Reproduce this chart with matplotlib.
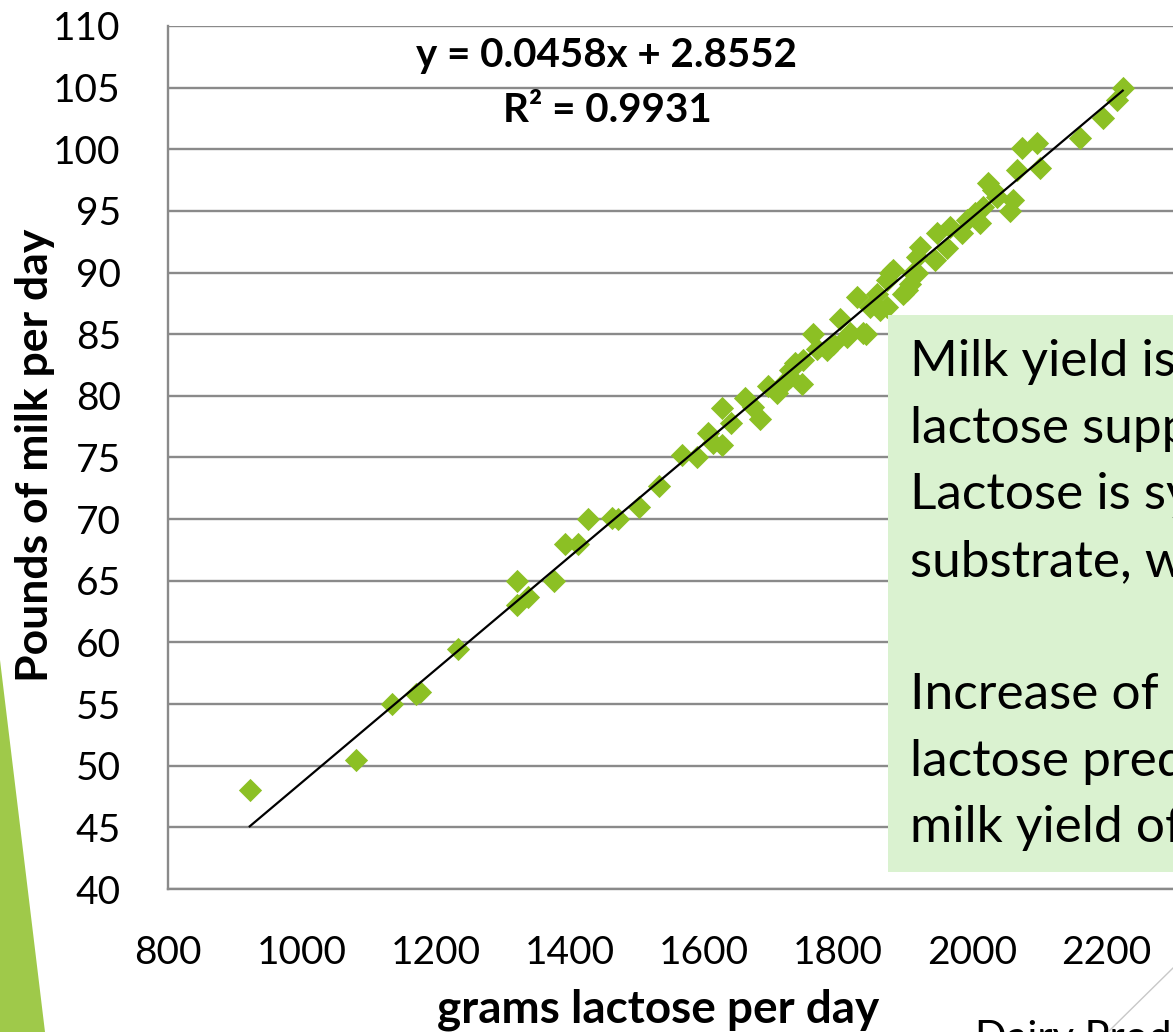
import matplotlib
matplotlib.use("Agg")
import matplotlib.pyplot as plt
from matplotlib.patches import Rectangle, Polygon
import numpy as np

# grams lactose per day vs pounds of milk per day
lactose = [922, 1081, 1134, 1170, 1176, 1233, 1321, 1321, 1337, 1376,
           1393, 1412, 1427, 1463, 1472, 1503, 1533, 1567, 1590, 1606,
           1613, 1627, 1627, 1640, 1661, 1673, 1684, 1696, 1709, 1718,
           1728, 1728, 1736, 1746, 1748, 1763, 1769, 1783, 1793, 1803,
           1813, 1818, 1837, 1842, 1828, 1848, 1858, 1863, 1873, 1873,
           1878, 1882, 1897, 1903, 1908, 1912, 1918, 1918, 1922, 1945,
           1948, 1963, 1967, 1985, 1992, 2004, 2012, 2017, 2024, 2031,
           2037, 2057, 2061, 2067, 2075, 2097, 2101, 2161, 2195, 2216,
           2225]
milk = [48.0, 50.5, 55.0, 55.8, 56.0, 59.5, 65.0, 63.0, 63.7, 65.0,
        68.0, 68.0, 70.0, 70.1, 70.0, 71.0, 72.7, 75.2, 75.0, 77.0,
        76.2, 79.0, 76.0, 77.8, 79.8, 79.1, 78.1, 80.8, 80.2, 81.0,
        81.5, 82.1, 82.7, 81.0, 82.9, 85.0, 83.8, 83.7, 84.2, 86.2,
        84.8, 85.1, 85.1, 85.0, 88.0, 87.2, 88.3, 87.0, 87.2, 89.4,
        90.0, 90.2, 88.3, 88.6, 89.1, 90.0, 90.0, 91.3, 92.1, 91.0,
        93.2, 92.0, 93.7, 93.2, 94.3, 94.8, 94.0, 95.3, 97.3, 96.7,
        96.1, 95.0, 95.9, 98.3, 100.1, 100.5, 98.5, 100.9, 102.5, 104.0,
        105.0]

slope = 0.0458
intercept = 2.8552
r_squared = 0.9931

x_ticks = list(range(800, 2401, 200))
y_ticks = list(range(40, 111, 5))

box_lines = ["Milk yield is driven by", "lactose supply.",
             "Lactose is synthesized from", "substrate, which drives water",
             "", "Increase of 100 g of", "lactose predicts a rise in",
             "milk yield of 4.6 lb/day"]

W, H = 1173, 1032
fig = plt.figure(figsize=(W / 100, H / 100), dpi=100)
plt.rcParams['font.family'] = ['Lato', 'DejaVu Sans']


def px(x, y):
    return (x / W, 1 - y / H)


ax = fig.add_axes([168 / W, 143 / H, (1240 - 168) / W, (889 - 26) / H])
ax.set_xlim(800, 2400)
ax.set_ylim(40, 110)
ax.set_xticks(x_ticks)
ax.set_yticks(y_ticks)
ax.tick_params(length=0, labelsize=28)
ax.tick_params(axis='y', pad=34)
ax.tick_params(axis='x', pad=33)
ax.grid(axis='y', color='#8a8a8a', lw=1.7)
ax.set_axisbelow(True)
for s in ['top', 'right']:
    ax.spines[s].set_visible(False)
for s in ['left', 'bottom']:
    ax.spines[s].set_color('#8a8a8a')
    ax.spines[s].set_linewidth(1.7)

ax.scatter(lactose, milk, marker='D', s=140, color='#8cc024', lw=0, zorder=3)
xs = np.array([min(lactose), max(lactose)])
ax.plot(xs, slope * xs + intercept, color='black', lw=1.6, zorder=4)

fig.text(*px(607, 55), f"y = {slope}x + {intercept}", ha='center', va='center',
         fontsize=29, fontweight='bold')
fig.text(*px(607, 110), f"R² = {r_squared}", ha='center', va='center',
         fontsize=29, fontweight='bold')

fig.text(*px(35, 455), "Pounds of milk per day", rotation=90, ha='center',
         va='center', fontsize=32, fontweight='bold')
fig.text(*px(658, 1010), "grams lactose per day", ha='center', va='center',
         fontsize=33, fontweight='bold')

# callout box on the right
x0, y0 = px(888, 872)
x1, y1 = px(1200, 315)
fig.patches.append(Rectangle((x0, y0), x1 - x0, y1 - y0, transform=fig.transFigure,
                             facecolor='#daf2d0', edgecolor='none', zorder=2))
baselines = [376, 443, 509, 576, 642, 709, 776, 842]
for line, b in zip(box_lines, baselines):
    fig.text(*px(910, b), line, ha='left', va='baseline', fontsize=37, zorder=3)

# slide decorations
fig.patches.append(Polygon([px(0, 660), px(0, 1032), px(45, 1032)], closed=True,
                           transform=fig.transFigure, facecolor='#9fc94a',
                           edgecolor='none'))
fig.lines.append(plt.Line2D([px(1173, 968)[0], px(1108, 1032)[0]],
                            [px(1173, 968)[1], px(1108, 1032)[1]],
                            transform=fig.transFigure, color='#c8c8c8', lw=1))
fig.text(*px(975, 1020), "Dairy Production", ha='left', va='top', fontsize=30)

fig.savefig("out.png", dpi=100)
